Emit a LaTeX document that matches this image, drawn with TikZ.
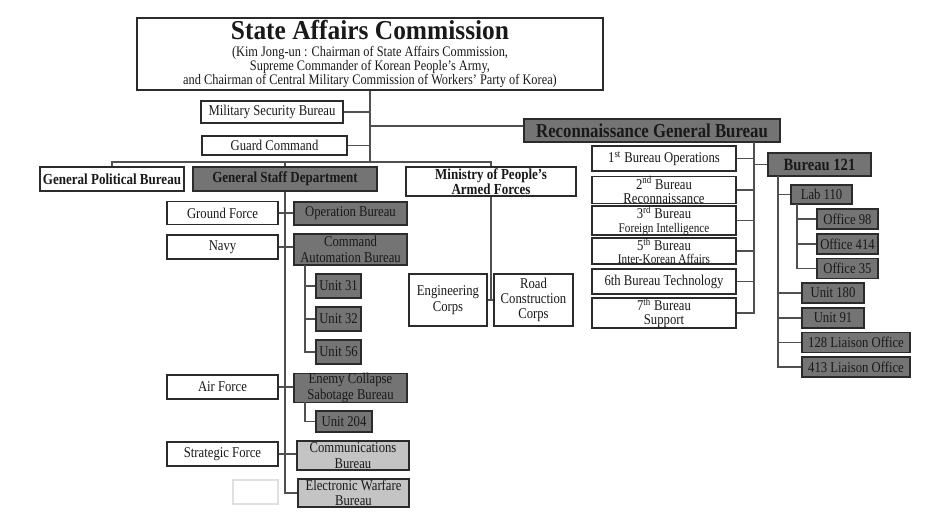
\documentclass[tikz,border=0pt]{standalone}
\usepackage{fontspec}
\setmainfont{Liberation Serif}[FakeStretch=0.85]
\newfontfamily\titlefont{Liberation Serif}[FakeStretch=0.93]
\definecolor{darkfill}{HTML}{747474}
\definecolor{lightfill}{HTML}{C4C4C4}
\definecolor{edge}{HTML}{2B2B2B}
\definecolor{wire}{HTML}{505050}

\begin{document}
\begin{tikzpicture}[x=0.75pt,y=-0.75pt,
		wh/.style 2 args={minimum width=#1*0.75pt,minimum height=#2*0.75pt},
		org/.style={draw=edge,line width=1.2pt,inner sep=0pt,align=center,text=black!90,font=\fontsize{11.2}{11}\selectfont},
		plain/.style={org,fill=white},
		dark/.style={org,fill=darkfill},
		light/.style={org,fill=lightfill},
		wire/.style={draw=wire,line width=1pt}]
	\useasboundingbox (0,0) rectangle (934,521);

	\node[plain,wh={466}{72},font=\fontsize{10.9}{10.3}\selectfont] (sac) at (370,54)
		{{\titlefont\fontsize{20.5}{20}\selectfont\bfseries State Affairs Commission}\\[2.5pt]
		(Kim Jong-un : Chairman of State Affairs Commission,\\
		Supreme Commander of Korean People’s Army,\\
		and Chairman of Central Military Commission of Workers’ Party of Korea)};
	\node[plain,wh={142}{22}] (msb) at (272,112) {Military Security Bureau};
	\node[plain,wh={145}{19}] (gc) at (274.5,145.5) {Guard Command};
	\node[dark,wh={256}{23},font=\fontsize{14.8}{15}\selectfont\bfseries] (rgb) at (652,130.5) {Reconnaissance General Bureau};

	\node[plain,wh={144}{24},font=\fontsize{11.5}{12}\selectfont\bfseries] (gpb) at (112,179) {General Political Bureau};
	\node[dark,wh={184}{24},font=\fontsize{11.5}{12}\selectfont\bfseries] (gsd) at (285,179) {General Staff Department};
	\node[plain,wh={170}{29},font=\fontsize{11.5}{11.5}\selectfont\bfseries] (mpaf) at (491,181.5) {Ministry of People’s\\Armed Forces};

	\node[plain,wh={111}{23}] (gf) at (222.5,213) {Ground Force};
	\node[plain,wh={111}{24}] (navy) at (222.5,247) {Navy};
	\node[plain,wh={111}{24}] (af) at (222.5,387) {Air Force};
	\node[plain,wh={111}{24}] (sf) at (222.5,454) {Strategic Force};
	\node[draw=black!12,fill=white,line width=0.8pt,wh={45}{24}] (blank) at (255.5,492) {};

	\node[dark,wh={113}{23}] (ob) at (350.5,213.5) {Operation Bureau};
	\node[dark,wh={113}{31},font=\fontsize{11.2}{11.5}\selectfont] (cab) at (350.5,249.5) {Command\\Automation Bureau};
	\node[dark,wh={45}{24}] (u31) at (338.5,286) {Unit 31};
	\node[dark,wh={45}{24}] (u32) at (338.5,319) {Unit 32};
	\node[dark,wh={45}{24}] (u56) at (338.5,352) {Unit 56};
	\node[dark,wh={113}{28},font=\fontsize{11.2}{11.5}\selectfont] (ecsb) at (350.5,388) {Enemy Collapse\\Sabotage Bureau};
	\node[dark,wh={56}{21}] (u204) at (344,421.5) {Unit 204};
	\node[light,wh={112}{29},font=\fontsize{11.2}{11.5}\selectfont] (comm) at (353,455.5) {Communications\\Bureau};
	\node[light,wh={111}{28},font=\fontsize{11.2}{11.5}\selectfont] (ewb) at (353.5,493) {Electronic Warfare\\Bureau};

	\node[plain,wh={78}{52},font=\fontsize{11.2}{12}\selectfont] (ec) at (448,300) {Engineering\\Corps};
	\node[plain,wh={79}{52},font=\fontsize{11.2}{11.5}\selectfont] (rcc) at (533.5,300) {Road\\Construction\\Corps};

	\node[plain,wh={144}{25}] (b1) at (664,158.5) {1\textsuperscript{st} Bureau Operations};
	\node[plain,wh={144}{26},font=\fontsize{11.2}{10.5}\selectfont] (b2) at (664,190) {2\textsuperscript{nd} Bureau\\Reconnaissance};
	\node[plain,wh={144}{25},font=\fontsize{11.2}{10}\selectfont] (b3) at (664,220.5) {3\textsuperscript{rd} Bureau\\{\fontsize{9.9}{10}\selectfont Foreign Intelligence}};
	\node[plain,wh={144}{26},font=\fontsize{11.2}{10}\selectfont] (b5) at (664,251) {5\textsuperscript{th} Bureau\\{\fontsize{9.9}{10}\selectfont Inter-Korean Affairs}};
	\node[plain,wh={144}{25}] (b6) at (664,281.5) {6th Bureau Technology};
	\node[plain,wh={144}{26},font=\fontsize{11.2}{10.5}\selectfont] (b7) at (664,313) {7\textsuperscript{th} Bureau\\Support};

	\node[dark,wh={103}{23},font=\fontsize{12.9}{13}\selectfont\bfseries] (b121) at (819.5,164.5) {Bureau 121};
	\node[dark,wh={61}{19}] (lab110) at (821.5,194.5) {Lab 110};
	\node[dark,wh={61}{20}] (of98) at (847.5,219) {Office 98};
	\node[dark,wh={61}{20}] (of414) at (847.5,244) {Office 414};
	\node[dark,wh={61}{20}] (of35) at (847.5,268.5) {Office 35};
	\node[dark,wh={62}{20}] (u180) at (833,293) {Unit 180};
	\node[dark,wh={62}{20}] (u91) at (833,318) {Unit 91};
	\node[dark,wh={108}{20}] (lo128) at (856,342.5) {128 Liaison Office};
	\node[dark,wh={108}{20}] (lo413) at (856,367) {413 Liaison Office};

	\coordinate (bus) at (370,162);
	\coordinate (rgbj) at (370,126);
	\coordinate (gsdend) at (285,493);
	\coordinate (cabt) at (305,265);
	\coordinate (ecsbt) at (305,402);
	\coordinate (mpafend) at (491,300);
	\coordinate (rgbt) at (754,142);
	\coordinate (b121t) at (778,176);
	\coordinate (labt) at (797,204);

	\draw[wire] (sac.south) -- (bus);
	\draw[wire] (msb.east) -- (msb.east -| bus);
	\draw[wire] (gc.east) -- (gc.east -| bus);
	\draw[wire] (rgbj) -- (rgbj -| rgb.west);
	\draw[wire] (gpb.north) |- (bus) -| (mpaf.north);
	\draw[wire] (gsd.north) -- (gsd.north |- bus);

	\draw[wire] (gsd.south) -- (gsdend) -- (ewb.west);
	\foreach \l/\r in {gf/ob,navy/cab,af/ecsb,sf/comm}
		\draw[wire] (\l.east) -- (\l.east -| \r.west);
	\draw[wire] (cabt) |- (u56.west);
	\foreach \u in {u31,u32}
		\draw[wire] (cabt |- \u) -- (\u.west);
	\draw[wire] (ecsbt) |- (u204.west);

	\draw[wire] (mpaf.south) -- (mpafend);
	\draw[wire] (ec.east) -- (rcc.west);

	\draw[wire] (rgbt) |- (b7.east);
	\foreach \b in {b1,b2,b3,b5,b6}
		\draw[wire] (\b.east) -- (\b -| rgbt);
	\draw[wire] (rgbt |- b121) -- (b121.west);

	\draw[wire] (b121t) |- (lo413.west);
	\foreach \n in {lab110,u180,u91,lo128}
		\draw[wire] (\n.west) -- (\n -| b121t);
	\draw[wire] (labt) |- (of35.west);
	\foreach \n in {of98,of414}
		\draw[wire] (\n.west) -- (\n -| labt);
\end{tikzpicture}
\end{document}
